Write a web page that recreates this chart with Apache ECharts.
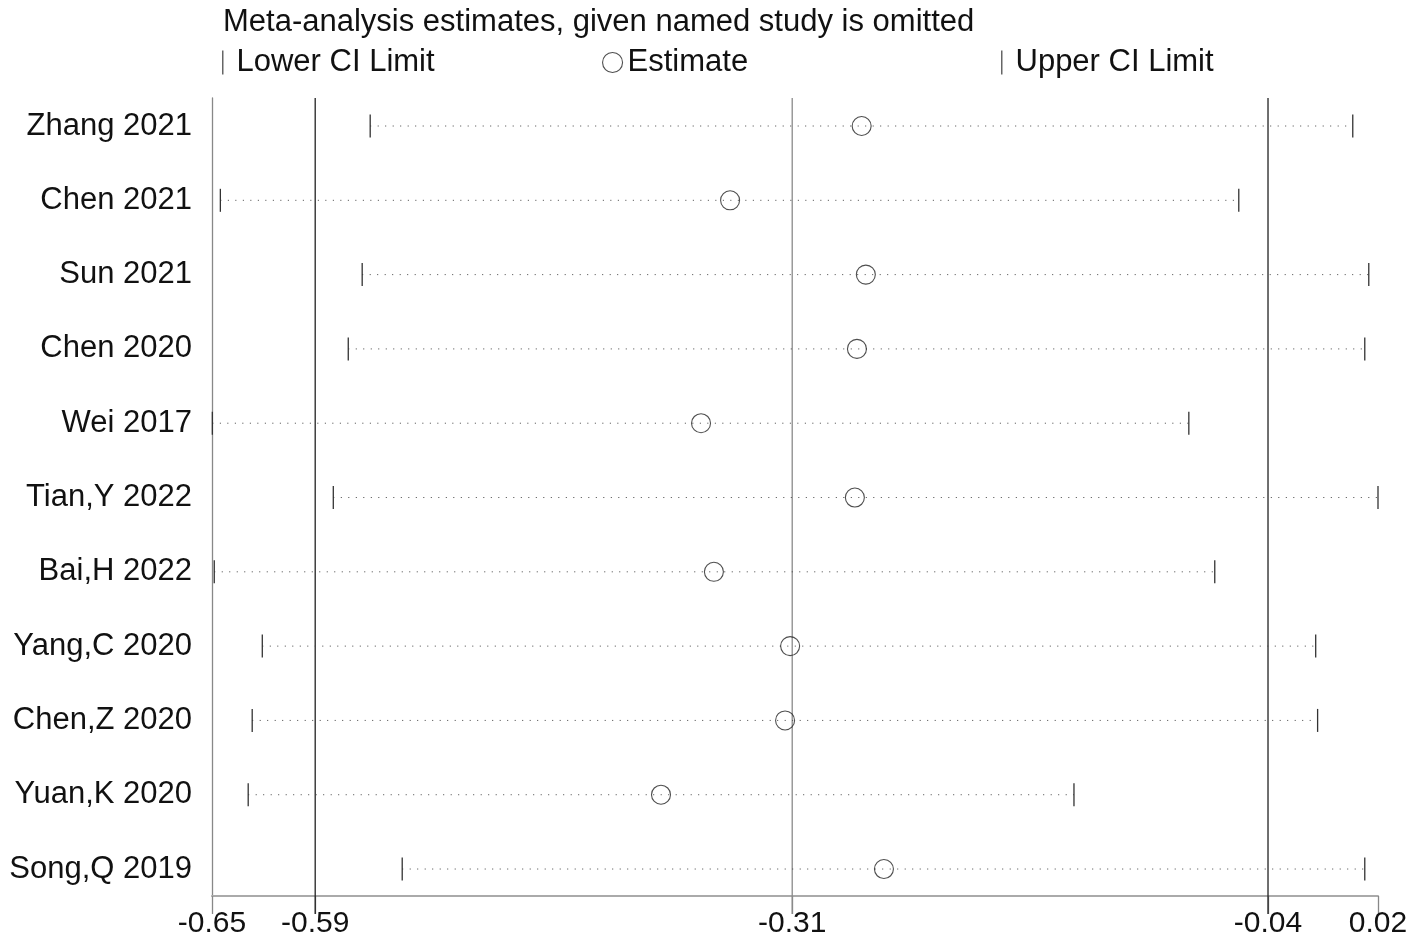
<!DOCTYPE html>
<html>
<head>
<meta charset="utf-8">
<script src="https://cdn.jsdelivr.net/npm/echarts@6/dist/echarts.min.js"></script>
<style>
html,body{margin:0;padding:0;background:#fff;}
#chart{width:1421px;height:946px;}
</style>
</head>
<body>
<div id="chart"></div>
<script>
const studies = ['Zhang 2021','Chen 2021','Sun 2021','Chen 2020','Wei 2017','Tian,Y 2022','Bai,H 2022','Yang,C 2020','Chen,Z 2020','Yuan,K 2020','Song,Q 2019'];
const lowerCI = [-0.5591,-0.6452,-0.5637,-0.5717,-0.6498,-0.5803,-0.6487,-0.6211,-0.6269,-0.6292,-0.5407];
const estimate = [-0.2767,-0.3523,-0.2743,-0.2794,-0.3690,-0.2806,-0.3616,-0.3178,-0.3207,-0.3920,-0.2639];
const upperCI = [0.0055,-0.0600,0.0147,0.0124,-0.0887,0.0200,-0.0738,-0.0158,-0.0147,-0.1547,0.0124];
const tickValues = [-0.65,-0.5907,-0.3166,-0.0432,0.02];
const tickLabels = ['-0.65','-0.59','-0.31','-0.04','0.02'];
const refValues = [-0.5907,-0.3166,-0.0432];
const refColors = ['#222','#8a8a8a','#222'];

const FONT = 'Liberation Sans, Arial, sans-serif';
const rowIdx = studies.map((s,i)=>i);
const Y_MIN = -0.377, Y_MAX = 10.363;

const chart = echarts.init(document.getElementById('chart'));

function tickItem(params, api){
  const p = api.coord([api.value(0), api.value(1)]);
  return {type:'line', shape:{x1:p[0],y1:p[1]-11.5,x2:p[0],y2:p[1]+11.5},
    style:{stroke:'#333', lineWidth:1.3}};
}

chart.setOption({
  animation:false,
  backgroundColor:'#fff',
  title:{text:'Meta-analysis estimates, given named study is omitted', left:218, top:2,
    textStyle:{fontFamily:FONT,fontSize:31,fontWeight:'normal',color:'#111'}},
  legend:[
    {left:217, top:42, itemWidth:1.5, itemHeight:24, icon:'rect',
      data:[{name:'Lower CI Limit', itemStyle:{color:'#666'}}],
      textStyle:{fontFamily:FONT,fontSize:31,color:'#111',padding:[0,0,6,8]}},
    {left:597, top:42, itemWidth:20, itemHeight:20, icon:'circle',
      data:[{name:'Estimate', itemStyle:{color:'rgba(0,0,0,0)',borderColor:'#222',borderWidth:1.1}}],
      textStyle:{fontFamily:FONT,fontSize:31,color:'#111',padding:[0,0,6,0]}},
    {left:996, top:42, itemWidth:1.5, itemHeight:24, icon:'rect',
      data:[{name:'Upper CI Limit', itemStyle:{color:'#666'}}],
      textStyle:{fontFamily:FONT,fontSize:31,color:'#111',padding:[0,0,6,8]}}
  ],
  grid:{left:212, right:43, top:98, bottom:50, containLabel:false},
  xAxis:{type:'value', min:-0.65, max:0.02,
    axisLine:{show:true, onZero:false, lineStyle:{color:'#aaa', width:2}},
    axisTick:{show:true, customValues:tickValues, length:18, lineStyle:{color:'#888', width:1.3}},
    axisLabel:{show:true, customValues:tickValues, margin:13, fontFamily:FONT, fontSize:30, color:'#111',
      formatter:function(v){ const i = tickValues.findIndex(t=>Math.abs(t-v)<1e-6); return i>=0?tickLabels[i]:''; }},
    splitLine:{show:false}},
  yAxis:{type:'value', inverse:true, min:Y_MIN, max:Y_MAX,
    axisLine:{show:true, onZero:false, lineStyle:{color:'#888', width:1.3}},
    axisTick:{show:false},
    axisLabel:{show:true, customValues:rowIdx, margin:20, fontFamily:FONT, fontSize:31, color:'#111',
      formatter:function(v){ const i = Math.round(v); return studies[i]||''; }},
    splitLine:{show:false}},
  series:[
    {type:'custom', name:'refLines', silent:true, clip:false, z:1,
      data: refValues.map((v,i)=>[v,i]),
      encode:{x:0},
      renderItem:function(params, api){
        const top = api.coord([api.value(0), Y_MIN]);
        const bot = api.coord([api.value(0), Y_MAX]);
        return {type:'line', shape:{x1:top[0],y1:top[1],x2:bot[0],y2:bot[1]+18},
          style:{stroke:refColors[api.value(1)], lineWidth:1.3}};
      }},
    {type:'custom', name:'ciLines', silent:true, z:2,
      data: rowIdx.map(i=>[lowerCI[i], upperCI[i], i]),
      encode:{x:[0,1], y:2},
      renderItem:function(params, api){
        const a = api.coord([api.value(0), api.value(2)]);
        const b = api.coord([api.value(1), api.value(2)]);
        return {type:'line', shape:{x1:a[0],y1:a[1],x2:b[0],y2:b[1]},
          style:{stroke:'#444', lineWidth:1, lineDash:[1,6.5]}};
      }},
    {type:'custom', name:'Lower CI Limit', silent:true, z:3,
      data: rowIdx.map(i=>[lowerCI[i], i]), encode:{x:0,y:1},
      itemStyle:{color:'#666'},
      renderItem:tickItem},
    {type:'scatter', name:'Estimate', z:4,
      data: rowIdx.map(i=>[estimate[i], i]),
      symbol:'circle', symbolSize:19,
      itemStyle:{color:'rgba(0,0,0,0)', borderColor:'#222', borderWidth:1.1}},
    {type:'custom', name:'Upper CI Limit', silent:true, z:3,
      data: rowIdx.map(i=>[upperCI[i], i]), encode:{x:0,y:1},
      itemStyle:{color:'#666'},
      renderItem:tickItem}
  ]
});
</script>
</body>
</html>
